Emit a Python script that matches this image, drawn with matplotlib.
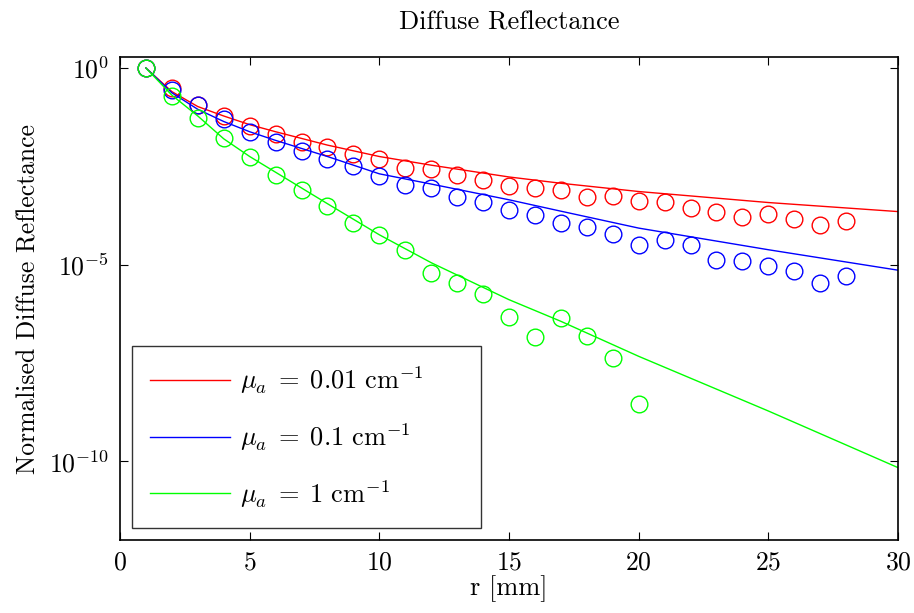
import matplotlib

matplotlib.use("Agg")
import matplotlib.pyplot as plt
import numpy as np
from matplotlib.ticker import FixedLocator, NullLocator

plt.rcParams["font.family"] = "serif"
plt.rcParams["font.serif"] = ["cmr10"]
plt.rcParams["mathtext.fontset"] = "cm"
plt.rcParams["axes.unicode_minus"] = False
plt.rcParams["axes.formatter.use_mathtext"] = True

# measured points (log10 of normalised reflectance), r = 1..N mm
r_meas = np.arange(1, 29)
log_red_meas = [0.0, -0.52, -0.94, -1.22, -1.47, -1.68, -1.87, -2.0, -2.18, -2.31,
                -2.53, -2.57, -2.72, -2.85, -2.99, -3.05, -3.11, -3.27, -3.26, -3.39,
                -3.40, -3.56, -3.65, -3.80, -3.70, -3.83, -3.98, -3.89]
log_blue_meas = [0.0, -0.56, -0.94, -1.29, -1.63, -1.87, -2.12, -2.31, -2.49, -2.74,
                 -2.98, -3.06, -3.27, -3.40, -3.62, -3.73, -3.94, -4.03, -4.21, -4.49,
                 -4.36, -4.51, -4.89, -4.90, -5.03, -5.15, -5.47, -5.29]
r_green = np.arange(1, 21)
log_green_meas = [0.0, -0.71, -1.28, -1.78, -2.25, -2.72, -3.10, -3.50, -3.93, -4.24,
                  -4.62, -5.21, -5.46, -5.74, -6.34, -6.84, -6.36, -6.82, -7.37, -8.53]

# model curves (log10)
r_model = [1, 2, 3, 4, 5, 6, 8, 10, 12, 15, 17, 20, 25, 30]
log_red_model = [0.0, -0.60, -0.98, -1.22, -1.44, -1.62, -1.96, -2.25, -2.47, -2.77,
                 -2.93, -3.14, -3.42, -3.65]
log_blue_model = [0.0, -0.63, -1.05, -1.36, -1.62, -1.84, -2.25, -2.69, -2.95, -3.35,
                  -3.64, -4.07, -4.62, -5.14]
log_green_model = [0.0, -0.69, -1.22, -1.80, -2.25, -2.65, -3.45, -4.24, -4.95, -5.89,
                   -6.44, -7.33, -8.72, -10.16]

labels = [r"$\mu_a\;=\;0.01\ \mathrm{cm}^{-1}$",
          r"$\mu_a\;=\;0.1\ \mathrm{cm}^{-1}$",
          r"$\mu_a\;=\;1\ \mathrm{cm}^{-1}$"]

fig = plt.figure(figsize=(9.14, 6.13), dpi=100)
ax = fig.add_axes([0.1313, 0.1191, 0.8512, 0.7879])

series = [
    (r_meas, log_red_meas, log_red_model, "#ff0000"),
    (r_meas, log_blue_meas, log_blue_model, "#0000ff"),
    (r_green, log_green_meas, log_green_model, "#00ff00"),
]
for (rm, lm, lmod, c), lab in zip(series, labels):
    ax.plot(r_model, 10.0 ** np.array(lmod), color=c, lw=1.0, label=lab)
    ax.plot(rm, 10.0 ** np.array(lm), "o", mfc="none", mec=c, ms=12, mew=1.0)

ax.set_yscale("log")
ax.set_xlim(0, 30)
ax.set_ylim(1e-12, 10 ** 0.28)
ax.yaxis.set_major_locator(FixedLocator([1e-10, 1e-5, 1e0]))
ax.yaxis.set_minor_locator(NullLocator())
ax.set_xticks(range(0, 31, 5))
ax.tick_params(direction="in", top=True, right=True, labelsize=18.5, length=6,
               width=0.8, pad=8)
for sp in ax.spines.values():
    sp.set_linewidth(1.2)

ax.set_title("Diffuse Reflectance", fontsize=19, pad=20)
ax.set_xlabel("r [mm]", fontsize=19, labelpad=0)
ax.set_ylabel("Normalised Diffuse Reflectance", fontsize=18.5, labelpad=6)

leg = ax.legend(loc="lower left", fontsize=19, frameon=True, fancybox=False,
                edgecolor="black", handlelength=3.0, handletextpad=0.4,
                borderpad=0.7, labelspacing=0.95, borderaxespad=0,
                mode="expand", bbox_to_anchor=(0.0154, 0.0248, 0.4486, 0.3))
leg.get_frame().set_linewidth(1.0)

fig.savefig("out.png", dpi=100)
